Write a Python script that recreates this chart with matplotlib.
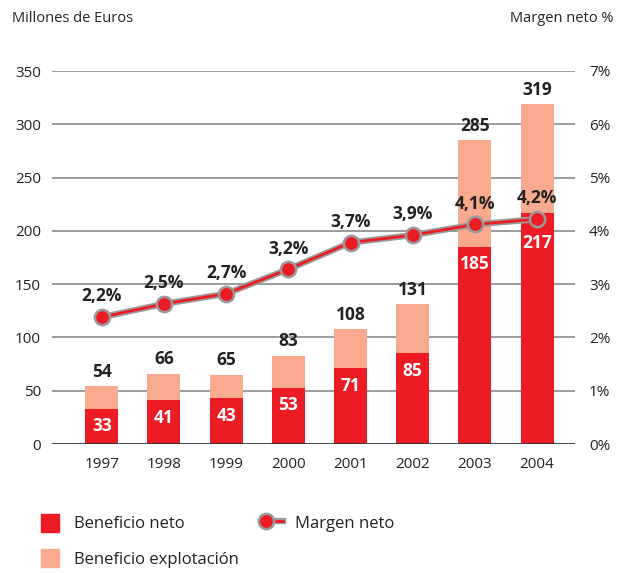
import matplotlib.pyplot as plt
import matplotlib.patheffects as pe
from matplotlib.lines import Line2D
from matplotlib.patches import Patch
from matplotlib.legend_handler import HandlerLine2D
import numpy as np

years = ['1997', '1998', '1999', '2000', '2001', '2002', '2003', '2004']
beneficio_neto = [33, 41, 43, 53, 71, 85, 185, 217]
beneficio_explot = [54, 66, 65, 83, 108, 131, 285, 319]
margen_pos = [2.38, 2.63, 2.82, 3.28, 3.78, 3.92, 4.12, 4.22]  # where points sit in the picture
margen_lbl = ['2,2%', '2,5%', '2,7%', '3,2%', '3,7%', '3,9%', '4,1%', '4,2%']

red = '#ED1C24'
salmon = '#F9A98E'
grey = '#9A9A9A'
txt = '#222222'

plt.rcParams['font.family'] = ['Open Sans', 'DejaVu Sans']


class LeftMarker(HandlerLine2D):
    # marker at the left end, short line going right (like the original legend)
    def create_artists(self, legend, orig_handle, xdescent, ydescent,
                       width, height, fontsize, trans):
        y = (height - ydescent) / 2
        xm = -xdescent + width * 0.3
        line = Line2D([xm, -xdescent + width], [y, y])
        self.update_prop(line, orig_handle, legend)
        line.set_marker('None')
        mk = Line2D([xm], [y])
        self.update_prop(mk, orig_handle, legend)
        mk.set_linestyle('None')
        mk.set_path_effects([])
        line.set_transform(trans)
        mk.set_transform(trans)
        return [line, mk]


fig = plt.figure(figsize=(6.26, 5.73), dpi=100)
ax = fig.add_axes([52/626, 1-444/573, (575-52)/626, (444-71)/573])
x = np.arange(len(years))
w = 0.53

ax.bar(x, beneficio_explot, w, color=salmon, zorder=2)
ax.bar(x, beneficio_neto, w, color=red, zorder=3)

for xi, v in zip(x, beneficio_explot):
    ax.text(xi, v + 5, str(v), ha='center', va='bottom', fontsize=12.5,
            fontweight='bold', color=txt, zorder=5)
for xi, v in zip(x, beneficio_neto):
    off = 20 if xi == len(x) - 1 else 8   # last one pushed down under the marker
    ax.text(xi, v - off, str(v), ha='center', va='top', fontsize=12.5,
            fontweight='bold', color='white', zorder=5)

ax.set_xlim(-0.8, 7.61)
ax.set_ylim(0, 350)
ax.set_yticks(range(0, 351, 50))
ax.set_xticks(x)
ax.set_xticklabels(years)
for y in range(50, 351, 50):
    ax.axhline(y, color='#8a8a8a', lw=1.2, zorder=1)
ax.axhline(0, color='#333333', lw=2, zorder=4)
for s in ax.spines.values():
    s.set_visible(False)
ax.tick_params(axis='both', length=0, labelsize=11, colors=txt)
ax.tick_params(axis='y', pad=8)
ax.tick_params(axis='x', pad=9)

ax2 = ax.twinx()
ax2.set_ylim(0, 7)
ax2.set_yticks(range(0, 8))
ax2.set_yticklabels([f'{i}%' for i in range(0, 8)])
for s in ax2.spines.values():
    s.set_visible(False)
ax2.tick_params(axis='y', length=0, labelsize=11, colors=txt, pad=10)

outline = [pe.Stroke(linewidth=4.5, foreground=grey), pe.Normal()]
ax2.plot(x, margen_pos, color=red, lw=2, zorder=6, path_effects=outline)
ax2.plot(x, margen_pos, 'o', ms=11, mfc=red, mec=grey, mew=1.8, zorder=7)
for xi, v, l in zip(x, margen_pos, margen_lbl):
    ax2.text(xi, v + 0.22, l, ha='center', va='bottom', fontsize=12.5,
             fontweight='bold', color=txt, zorder=8)

fig.text(12/626, 1-18/573, 'Millones de Euros', fontsize=10.5, color=txt, va='center')
fig.text(614/626, 1-18/573, 'Margen neto %', fontsize=10.5, color=txt, va='center', ha='right')

fig.legend(handles=[Patch(color=red, label='Beneficio neto'),
                    Patch(color=salmon, label='Beneficio explotación')],
           loc='upper left', bbox_to_anchor=(26/626, 1-499/573), frameon=False,
           fontsize=12, handlelength=1.05, handleheight=1.25, handletextpad=0.95,
           labelspacing=1.0, labelcolor=txt)
mline = Line2D([], [], color=red, lw=2, marker='o', ms=11, mfc=red, mec=grey, mew=1.8,
               path_effects=outline, label='Margen neto')
fig.legend(handles=[mline], loc='upper left', bbox_to_anchor=(243/626, 1-499/573),
           frameon=False, fontsize=12, handlelength=1.5, handletextpad=0.7,
           handleheight=1.25, labelcolor=txt, handler_map={Line2D: LeftMarker()})

fig.savefig('out.png', dpi=100)
